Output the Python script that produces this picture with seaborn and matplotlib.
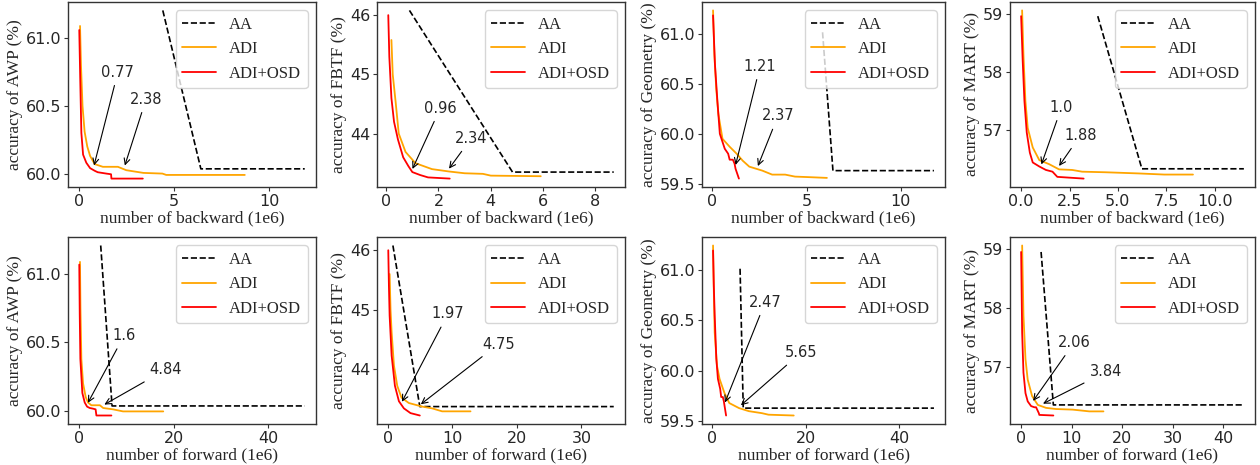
import matplotlib
matplotlib.use("Agg")
import matplotlib.pyplot as plt
import seaborn as sns

# -------------------------------
# Values
# -------------------------------
# AWP, backward
awp_bwd_aa_x = [4.42, 6.42, 11.88]
awp_bwd_aa_y = [61.205, 60.035, 60.035]
awp_bwd_adi_x = [0.07, 0.12, 0.2, 0.31, 0.45, 0.6, 0.84, 1.27, 2.06, 2.5, 3.4, 4.4, 4.6, 8.73]
awp_bwd_adi_y = [61.09, 60.8, 60.5, 60.31, 60.2, 60.13, 60.07, 60.05, 60.05, 60.025, 60.005, 60.0, 59.99, 59.99]
awp_bwd_osd_x = [0.03, 0.08, 0.14, 0.23, 0.4, 0.6, 0.85, 1.0, 1.45, 1.7, 1.72, 3.37]
awp_bwd_osd_y = [61.06, 60.7, 60.3, 60.14, 60.08, 60.04, 60.02, 60.01, 60.0, 59.995, 59.963, 59.963]
awp_bwd_marks = [0.77, 2.38]
awp_bwd_marks_y = [60.04, 60.04]

# FBTF, backward
fbtf_bwd_aa_x = [0.89, 4.83, 8.70]
fbtf_bwd_aa_y = [46.08, 43.35, 43.35]
fbtf_bwd_adi_x = [0.2, 0.25, 0.36, 0.48, 0.74, 1.12, 1.75, 2.4, 3.0, 3.7, 4.0, 5.91]
fbtf_bwd_adi_y = [45.58, 45.0, 44.54, 44.0, 43.69, 43.5, 43.4, 43.36, 43.33, 43.32, 43.29, 43.28]
fbtf_bwd_osd_x = [0.08, 0.12, 0.2, 0.3, 0.45, 0.65, 0.85, 1.0, 1.3, 1.6, 2.43]
fbtf_bwd_osd_y = [46.0, 45.3, 44.6, 44.2, 43.9, 43.6, 43.45, 43.35, 43.3, 43.26, 43.24]
fbtf_bwd_marks = [0.96, 2.34]
fbtf_bwd_marks_y = [43.36, 43.37]

# Geometry, backward
geo_bwd_aa_x = [5.85, 6.4, 11.75]
geo_bwd_aa_y = [61.02, 59.63, 59.63]
geo_bwd_adi_x = [0.05, 0.12, 0.22, 0.33, 0.55, 0.93, 1.3, 1.62, 1.97, 2.66, 3.18, 3.87, 4.39, 5.08, 6.08]
geo_bwd_adi_y = [61.24, 60.8, 60.45, 60.2, 59.95, 59.87, 59.8, 59.73, 59.67, 59.63, 59.59, 59.59, 59.57, 59.565, 59.557]
geo_bwd_osd_x = [0.05, 0.15, 0.28, 0.41, 0.67, 0.85, 0.93, 1.1, 1.19, 1.24, 1.42]
geo_bwd_osd_y = [61.19, 60.7, 60.33, 60.0, 59.85, 59.8, 59.74, 59.74, 59.7, 59.65, 59.55]
geo_bwd_marks = [1.21, 2.37]
geo_bwd_marks_y = [59.66, 59.65]

# MART, backward
mart_bwd_aa_x = [3.96, 6.24, 11.51]
mart_bwd_aa_y = [58.97, 56.32, 56.32]
mart_bwd_adi_x = [0.05, 0.12, 0.22, 0.34, 0.6, 0.94, 1.45, 1.96, 2.64, 3.15, 4.34, 6.04, 7.4, 8.88]
mart_bwd_adi_y = [59.07, 58.3, 57.5, 57.03, 56.69, 56.47, 56.4, 56.31, 56.3, 56.27, 56.26, 56.24, 56.22, 56.22]
mart_bwd_osd_x = [0.0, 0.08, 0.17, 0.29, 0.45, 0.6, 0.94, 1.28, 1.62, 1.87, 3.23]
mart_bwd_osd_y = [58.97, 58.2, 57.5, 56.95, 56.6, 56.43, 56.36, 56.3, 56.27, 56.18, 56.15]
mart_bwd_marks = [1.0, 1.88]
mart_bwd_marks_y = [56.35, 56.33]

# AWP, forward
awp_fwd_aa_x = [4.58, 6.98, 47.7]
awp_fwd_aa_y = [61.21, 60.035, 60.035]
awp_fwd_adi_x = [0.2, 0.3, 0.49, 0.85, 1.41, 1.9, 2.6, 4.4, 5.1, 7.2, 9.3, 17.8]
awp_fwd_adi_y = [61.09, 60.75, 60.38, 60.2, 60.1, 60.06, 60.04, 60.04, 60.02, 60.01, 59.995, 59.995]
awp_fwd_osd_x = [0.05, 0.15, 0.28, 0.7, 1.2, 1.7, 2.26, 2.96, 3.5, 3.67, 6.84]
awp_fwd_osd_y = [61.07, 60.7, 60.38, 60.13, 60.06, 60.03, 60.02, 60.015, 60.01, 59.965, 59.965]
awp_fwd_marks = [1.6, 4.84]
awp_fwd_marks_y = [60.04, 60.035]

# FBTF, forward
fbtf_fwd_aa_x = [0.77, 4.94, 35.0]
fbtf_fwd_aa_y = [46.08, 43.37, 43.37]
fbtf_fwd_adi_x = [0.26, 0.4, 0.57, 0.93, 1.44, 2.1, 3.24, 5.3, 6.85, 8.4, 12.8]
fbtf_fwd_adi_y = [45.6, 45.0, 44.62, 44.06, 43.72, 43.52, 43.43, 43.37, 43.34, 43.29, 43.29]
fbtf_fwd_osd_x = [0.05, 0.15, 0.26, 0.57, 1.08, 1.7, 2.47, 3.5, 4.94]
fbtf_fwd_osd_y = [46.0, 45.4, 44.9, 44.23, 43.72, 43.46, 43.34, 43.26, 43.22]
fbtf_fwd_marks = [1.97, 4.75]
fbtf_fwd_marks_y = [43.41, 43.38]

# Geometry, forward
geo_fwd_aa_x = [5.92, 6.6, 47.4]
geo_fwd_aa_y = [61.01, 59.63, 59.63]
geo_fwd_adi_x = [0.14, 0.3, 0.49, 0.98, 1.53, 2.58, 3.62, 5.71, 7.8, 10.6, 12.0, 17.4]
geo_fwd_adi_y = [61.24, 60.8, 60.38, 60.05, 59.92, 59.78, 59.68, 59.63, 59.6, 59.58, 59.565, 59.557]
geo_fwd_osd_x = [0.14, 0.3, 0.49, 0.84, 1.18, 1.67, 1.88, 2.23, 2.44, 2.93]
geo_fwd_osd_y = [61.19, 60.85, 60.55, 60.12, 59.92, 59.82, 59.74, 59.74, 59.7, 59.557]
geo_fwd_marks = [2.47, 5.65]
geo_fwd_marks_y = [59.66, 59.64]

# MART, forward
mart_fwd_aa_x = [3.95, 6.38, 44.1]
mart_fwd_aa_y = [58.95, 56.35, 56.35]
mart_fwd_adi_x = [0.2, 0.46, 0.86, 1.3, 2.17, 3.3, 4.93, 6.9, 10.2, 13.5, 16.3]
mart_fwd_adi_y = [59.06, 57.87, 57.13, 56.78, 56.5, 56.35, 56.3, 56.28, 56.27, 56.24, 56.24]
mart_fwd_osd_x = [0.0, 0.2, 0.46, 0.86, 1.3, 1.97, 2.63, 2.96, 3.5, 3.6, 6.38]
mart_fwd_osd_y = [58.95, 57.58, 56.9, 56.55, 56.41, 56.33, 56.31, 56.31, 56.21, 56.18, 56.17]
mart_fwd_marks = [2.06, 3.84]
mart_fwd_marks_y = [56.38, 56.35]

methods = ["AA", "ADI", "ADI+OSD"]
attacks = ["AWP", "FBTF", "Geometry", "MART"]

# -------------------------------
# Layout (pixels of the 1260x465 canvas)
# -------------------------------
W, H = 1260, 465
col_left = [68, 377, 702, 1010]
col_width = [248, 248, 243, 245]
row_top = [2, 237]
row_height = [185, 187]

sns.set_style("white")
plt.rcParams["font.family"] = ["DejaVu Sans"]
plt.rcParams["axes.edgecolor"] = "#333333"
plt.rcParams["axes.linewidth"] = 1.0

serif = {"family": "Liberation Serif", "size": 12.5}
legend_font = {"family": "Liberation Serif", "size": 12}

fig = plt.figure(figsize=(12.6, 4.65), dpi=100)

panels = [
    # row, col, aa, adi, osd, marks, xticks, yticks, text positions
    (0, 0, (awp_bwd_aa_x, awp_bwd_aa_y), (awp_bwd_adi_x, awp_bwd_adi_y), (awp_bwd_osd_x, awp_bwd_osd_y),
     (awp_bwd_marks, awp_bwd_marks_y), [0, 5, 10], [60.0, 60.5, 61.0], [(2.06, 60.75), (3.54, 60.55)]),
    (0, 1, (fbtf_bwd_aa_x, fbtf_bwd_aa_y), (fbtf_bwd_adi_x, fbtf_bwd_adi_y), (fbtf_bwd_osd_x, fbtf_bwd_osd_y),
     (fbtf_bwd_marks, fbtf_bwd_marks_y), [0, 2, 4, 6, 8], [44, 45, 46], [(2.07, 44.43), (3.25, 43.92)]),
    (0, 2, (geo_bwd_aa_x, geo_bwd_aa_y), (geo_bwd_adi_x, geo_bwd_adi_y), (geo_bwd_osd_x, geo_bwd_osd_y),
     (geo_bwd_marks, geo_bwd_marks_y), [0, 5, 10], [59.5, 60.0, 60.5, 61.0], [(2.54, 60.68), (3.49, 60.18)]),
    (0, 3, (mart_bwd_aa_x, mart_bwd_aa_y), (mart_bwd_adi_x, mart_bwd_adi_y), (mart_bwd_osd_x, mart_bwd_osd_y),
     (mart_bwd_marks, mart_bwd_marks_y), [0.0, 2.5, 5.0, 7.5, 10.0], [57, 58, 59], [(2.09, 57.39), (3.06, 56.9)]),
    (1, 0, (awp_fwd_aa_x, awp_fwd_aa_y), (awp_fwd_adi_x, awp_fwd_adi_y), (awp_fwd_osd_x, awp_fwd_osd_y),
     (awp_fwd_marks, awp_fwd_marks_y), [0, 20, 40], [60.0, 60.5, 61.0], [(9.52, 60.55), (18.3, 60.30)]),
    (1, 1, (fbtf_fwd_aa_x, fbtf_fwd_aa_y), (fbtf_fwd_adi_x, fbtf_fwd_adi_y), (fbtf_fwd_osd_x, fbtf_fwd_osd_y),
     (fbtf_fwd_marks, fbtf_fwd_marks_y), [0, 10, 20, 30], [44, 45, 46], [(9.3, 44.93), (17.1, 44.42)]),
    (1, 2, (geo_fwd_aa_x, geo_fwd_aa_y), (geo_fwd_adi_x, geo_fwd_adi_y), (geo_fwd_osd_x, geo_fwd_osd_y),
     (geo_fwd_marks, geo_fwd_marks_y), [0, 20, 40], [59.5, 60.0, 60.5, 61.0], [(11.3, 60.68), (18.95, 60.18)]),
    (1, 3, (mart_fwd_aa_x, mart_fwd_aa_y), (mart_fwd_adi_x, mart_fwd_adi_y), (mart_fwd_osd_x, mart_fwd_osd_y),
     (mart_fwd_marks, mart_fwd_marks_y), [0, 10, 20, 30, 40], [57, 58, 59], [(10.5, 57.41), (16.8, 56.91)]),
]

for row, col, aa, adi, osd, marks, xticks, yticks, text_pos in panels:
    left = col_left[col] / W
    bottom = 1 - (row_top[row] + row_height[row]) / H
    ax = fig.add_axes([left, bottom, col_width[col] / W, row_height[row] / H])

    sns.lineplot(x=aa[0], y=aa[1], ax=ax, color="black", linestyle="--", linewidth=1.2,
                 label=methods[0], sort=False, estimator=None)
    sns.lineplot(x=adi[0], y=adi[1], ax=ax, color="orange", linewidth=1.3,
                 label=methods[1], sort=False, estimator=None)
    sns.lineplot(x=osd[0], y=osd[1], ax=ax, color="red", linewidth=1.3,
                 label=methods[2], sort=False, estimator=None)

    for (mx, my), (tx, ty) in zip(zip(marks[0], marks[1]), text_pos):
        ax.annotate(str(mx), xy=(mx, my), xytext=(tx, ty), ha="center", va="center",
                    fontsize=10.5, arrowprops=dict(arrowstyle="->", color="black", linewidth=0.8))

    ax.set_xticks(xticks)
    ax.set_yticks(yticks)
    ax.tick_params(labelsize=11.5, pad=2, left=True, bottom=True, length=3, width=0.8,
                   color="#333333")
    ax.set_xlabel("number of " + ("backward" if row == 0 else "forward") + " (1e6)",
                  fontdict=serif, labelpad=1)
    ax.set_ylabel("accuracy of " + attacks[col] + " (%)", fontdict=serif, labelpad=2)
    ax.legend(loc="upper right", prop=legend_font, framealpha=0.8)

fig.savefig("out.png", dpi=100)
